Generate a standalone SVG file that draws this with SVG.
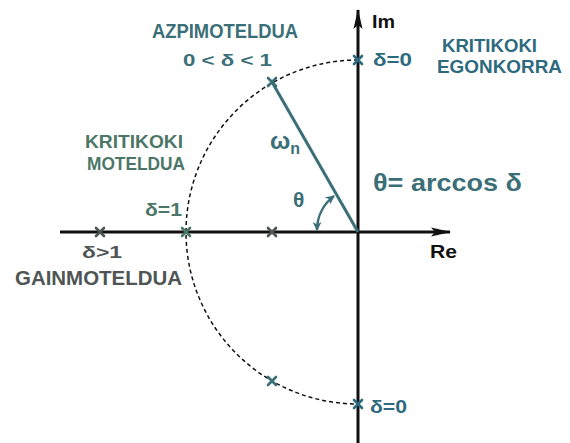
<svg xmlns="http://www.w3.org/2000/svg" width="570" height="443" viewBox="0 0 570 443">
<style>
text{font-family:"Liberation Sans",Arial,sans-serif;font-weight:bold}
.teal{fill:#3b6f78}
.green{fill:#4c7766}
.grey{fill:#4e5554}
.blue{fill:#2e6a7e}
.blk{fill:#111}
.ax{stroke:#111;stroke-width:3;fill:none}
.xm{stroke-width:2.6;stroke-linecap:round;fill:none}
</style>
<defs>
<marker id="ah" viewBox="0 0 10 10" refX="9" refY="5" markerWidth="9" markerHeight="9" orient="auto-start-reverse" markerUnits="userSpaceOnUse">
<path d="M0,0 L10,5 L0,10 L3,5 Z" fill="#3b6f78"/>
</marker>
<marker id="axh" viewBox="0 0 20 10" refX="19" refY="5" markerWidth="20" markerHeight="10" orient="auto" markerUnits="userSpaceOnUse">
<path d="M0,0.5 L20,5 L0,9.5 L4,5 Z" fill="#111"/>
</marker>
</defs>
<g id="connectors">
<path id="circle" d="M358,60 A172,172 0 0 0 358,404" fill="none" stroke="#111" stroke-width="1.5" stroke-dasharray="4,3"/>
<line id="re-axis" class="ax" x1="60" y1="232" x2="450" y2="232" marker-end="url(#axh)"/>
<line id="im-axis" class="ax" x1="358" y1="443" x2="358" y2="10" marker-end="url(#axh)"/>
<line id="wn" x1="358" y1="232" x2="272" y2="82" stroke="#3b6f78" stroke-width="3"/>
<path id="theta-arc" d="M317,230 A43,43 0 0 1 334,196" fill="none" stroke="#3b6f78" stroke-width="2.5" marker-start="url(#ah)" marker-end="url(#ah)"/>
</g>
<g id="poles">
<path class="xm" stroke="#3b6f78" d="M268,78 L276,86 M276,78 L268,86"/>
<path class="xm" stroke="#3b6f78" d="M268,377 L276,385 M276,377 L268,385"/>
<path class="xm" stroke="#2e6a7e" d="M354,56 L362,64 M362,56 L354,64"/>
<path class="xm" stroke="#2e6a7e" d="M354,400 L362,408 M362,400 L354,408"/>
<path class="xm" stroke="#4c7766" d="M182,228 L190,236 M190,228 L182,236"/>
<path class="xm" stroke="#4e5554" d="M96,228 L104,236 M104,228 L96,236"/>
<path class="xm" stroke="#4e5554" d="M268,228 L276,236 M276,228 L268,236"/>
</g>
<g id="underdamped">
<text class="teal" x="152" y="38" font-size="20" textLength="146" lengthAdjust="spacingAndGlyphs">AZPIMOTELDUA</text>
<text class="teal" x="183" y="66" font-size="17" textLength="89" lengthAdjust="spacingAndGlyphs">0 &lt; δ &lt; 1</text>
</g>
<g id="undamped">
<text class="blue" x="442" y="52" font-size="18" textLength="95" lengthAdjust="spacingAndGlyphs">KRITIKOKI</text>
<text class="blue" x="437" y="73" font-size="18" textLength="125" lengthAdjust="spacingAndGlyphs">EGONKORRA</text>
<text class="blue" x="373" y="66" font-size="18" textLength="39" lengthAdjust="spacingAndGlyphs">δ=0</text>
<text class="blue" x="370" y="413" font-size="18" textLength="37" lengthAdjust="spacingAndGlyphs">δ=0</text>
</g>
<g id="critically-damped">
<text class="green" x="85" y="148" font-size="19" textLength="98" lengthAdjust="spacingAndGlyphs">KRITIKOKI</text>
<text class="green" x="87" y="170" font-size="18" textLength="98" lengthAdjust="spacingAndGlyphs">MOTELDUA</text>
<text class="green" x="145" y="216" font-size="19" textLength="37" lengthAdjust="spacingAndGlyphs">δ=1</text>
</g>
<g id="overdamped">
<text class="grey" x="82" y="258" font-size="17" textLength="40" lengthAdjust="spacingAndGlyphs">δ&gt;1</text>
<text class="grey" x="15" y="285" font-size="21" textLength="167" lengthAdjust="spacingAndGlyphs">GAINMOTELDUA</text>
</g>
<g id="labels">
<text class="blk" x="372" y="28" font-size="18" font-weight="normal" textLength="23" lengthAdjust="spacingAndGlyphs">Im</text>
<text class="blk" x="430" y="258" font-size="19" textLength="27" lengthAdjust="spacingAndGlyphs">Re</text>
<text class="teal" x="270" y="149" font-size="24" font-weight="normal">ω<tspan font-size="16" dy="5">n</tspan></text>
<text class="teal" x="293" y="207" font-size="21" font-weight="normal">θ</text>
<text class="teal" x="373" y="191" font-size="24" font-weight="normal" textLength="149" lengthAdjust="spacingAndGlyphs">θ= arccos δ</text>
</g>
</svg>
